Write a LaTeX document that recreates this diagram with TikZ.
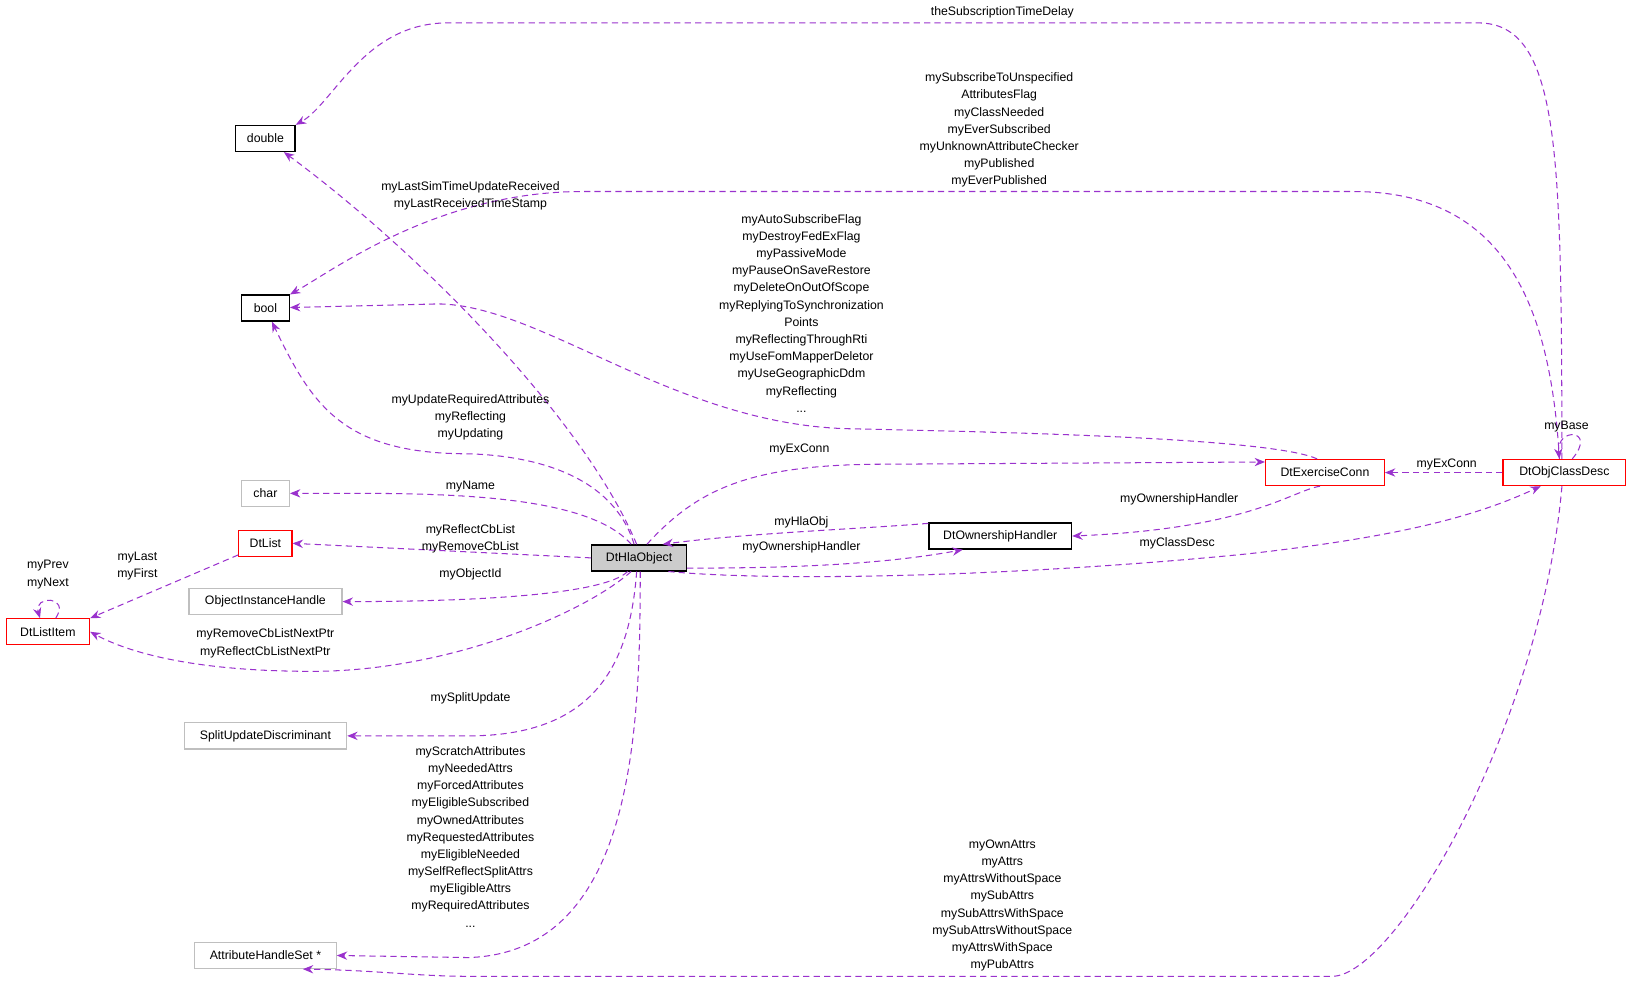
\documentclass[tikz,border=0pt]{standalone}
\usepackage{fontspec}
\setmainfont{Liberation Sans}
\usetikzlibrary{arrows.meta}
\definecolor{edge}{RGB}{154,50,205}
\definecolor{gr}{RGB}{191,191,191}
\begin{document}
\begin{tikzpicture}[x=0.5pt,y=-0.5pt,
  lbl/.style={font=\fontsize{5.9}{8.25}\selectfont,align=center,inner sep=0pt},
  box/.style={draw,line width=0.6pt,minimum height=12.5pt,inner sep=2pt,font=\fontsize{5.9}{7.5}\selectfont},
  gbox/.style={box,draw=gr},
  rbox/.style={box,draw=red},
  e/.style={draw=edge,dashed,dash pattern=on 3pt off 2pt,line width=0.5pt,-{Stealth[length=5pt,width=4pt]}}]
\useasboundingbox (0,0) rectangle (1568,944);
\node[box,minimum width=28.5pt] (dbl) at (255,133) {double};
\node[box,minimum width=23pt] (bool) at (255,296) {bool};
\node[gbox,minimum width=23pt] (char) at (255,474) {char};
\node[rbox,minimum width=25.5pt] (dtl) at (255,522) {DtList};
\node[gbox,minimum width=73.5pt] (oih) at (255,578) {ObjectInstanceHandle};
\node[rbox,minimum width=40pt] (li) at (46,607) {DtListItem};
\node[gbox,minimum width=78pt] (spl) at (255,707) {SplitUpdateDiscriminant};
\node[gbox,minimum width=68pt] (ahs) at (255,918) {AttributeHandleSet *};
\node[box,fill=gr!80,minimum width=45.5pt] (hla) at (614,536) {DtHlaObject};
\node[box,minimum width=68.5pt] (own) at (961,515) {DtOwnershipHandler};
\node[rbox,minimum width=57pt] (exc) at (1273,454) {DtExerciseConn};
\node[rbox,minimum width=59pt] (cls) at (1503,454) {DtObjClassDesc};

\path[e] (cls.100) .. controls (1500,150) and (1500,22) .. (1420,22) -- (430,22) .. controls (350,22) and (320,100) .. (dbl.north east);
\node[lbl] (l1) at (963,12) {theSubscriptionTimeDelay};
\path[e] (cls.110) .. controls (1490,300) and (1450,184) .. (1300,184) -- (560,184) .. controls (420,184) and (320,260) .. (bool.north east);
\node[lbl] (l2) at (960,125) {mySubscribeToUnspecified\\AttributesFlag\\myClassNeeded\\myEverSubscribed\\myUnknownAttributeChecker\\myPublished\\myEverPublished};
\path[e] (exc.120) .. controls (1220,420) and (950,415) .. (820,412) .. controls (650,410) and (520,292) .. (420,292) -- (bool);
\node[lbl] (l3) at (770,301) {myAutoSubscribeFlag\\myDestroyFedExFlag\\myPassiveMode\\myPauseOnSaveRestore\\myDeleteOnOutOfScope\\myReplyingToSynchronization\\Points\\myReflectingThroughRti\\myUseFomMapperDeletor\\myUseGeographicDdm\\myReflecting\\...};
\path[e] (hla.100) .. controls (560,400) and (400,240) .. (dbl);
\node[lbl] (l4) at (452,188) {myLastSimTimeUpdateReceived\\myLastReceivedTimeStamp};
\path[e] (hla.110) .. controls (590,460) and (520,438) .. (450,436) .. controls (330,436) and (300,390) .. (bool);
\node[lbl] (l5) at (452,401) {myUpdateRequiredAttributes\\myReflecting\\myUpdating};
\path[e] (hla.120) .. controls (560,470) and (400,474) .. (char);
\node[lbl] (l6) at (452,467) {myName};
\path[e] (hla.west) -- (dtl.east);
\node[lbl] (l7) at (452,518) {myReflectCbList\\myRemoveCbList};
\path[e] (hla.-130) .. controls (580,572) and (450,578) .. (oih);
\node[lbl] (l8) at (452,552) {myObjectId};
\path[e] (hla.-120) .. controls (560,590) and (430,645) .. (300,645) .. controls (180,645) and (120,625) .. (li.east);
\node[lbl] (l9) at (255,618) {myRemoveCbListNextPtr\\myReflectCbListNextPtr};
\path[e] (dtl) -- (li.north east);
\node[lbl] (l10) at (132,544) {myLast\\myFirst};
\path[e] (li.60) .. controls (68,572) and (32,572) .. (li.120);
\node[lbl] (l11) at (46,552) {myPrev\\myNext};
\path[e] (hla.-100) .. controls (605,640) and (570,707) .. (450,707) -- (spl);
\node[lbl] (l12) at (452,671) {mySplitUpdate};
\path[e] (hla.-85) .. controls (615,700) and (610,915) .. (450,920) -- (ahs.east);
\node[lbl] (l13) at (452,804) {myScratchAttributes\\myNeededAttrs\\myForcedAttributes\\myEligibleSubscribed\\myOwnedAttributes\\myRequestedAttributes\\myEligibleNeeded\\mySelfReflectSplitAttrs\\myEligibleAttrs\\myRequiredAttributes\\...};
\path[e] (cls.-100) .. controls (1480,700) and (1340,938) .. (1280,938) -- (450,938) .. controls (400,938) and (360,932) .. (ahs.-20);
\node[lbl] (l14) at (963,870) {myOwnAttrs\\myAttrs\\myAttrsWithoutSpace\\mySubAttrs\\mySubAttrsWithSpace\\mySubAttrsWithoutSpace\\myAttrsWithSpace\\myPubAttrs};
\path[e] (hla.60) .. controls (670,470) and (720,446) .. (850,446) -- (exc.170);
\node[lbl] (l15) at (768,432) {myExConn};
\path[e] (cls.west) -- (exc.east);
\node[lbl] (l16) at (1390,446) {myExConn};
\path[e] (cls.60) .. controls (1535,412) and (1495,410) .. (cls.110);
\node[lbl] (l17) at (1505,410) {myBase};
\path[e] (own.170) .. controls (830,508) and (720,512) .. (hla.30);
\node[lbl] (l18) at (770,502) {myHlaObj};
\path[e] (hla.-12) .. controls (760,546) and (850,542) .. (own.200);
\node[lbl] (l19) at (770,526) {myOwnershipHandler};
\path[e] (exc.250) .. controls (1240,472) and (1200,508) .. (own.east);
\node[lbl] (l20) at (1133,480) {myOwnershipHandler};
\path[e] (hla.-25) .. controls (760,560) and (1000,552) .. (1200,532) .. controls (1350,515) and (1420,495) .. (cls.-150);
\node[lbl] (l21) at (1131,522) {myClassDesc};
\end{tikzpicture}
\end{document}
